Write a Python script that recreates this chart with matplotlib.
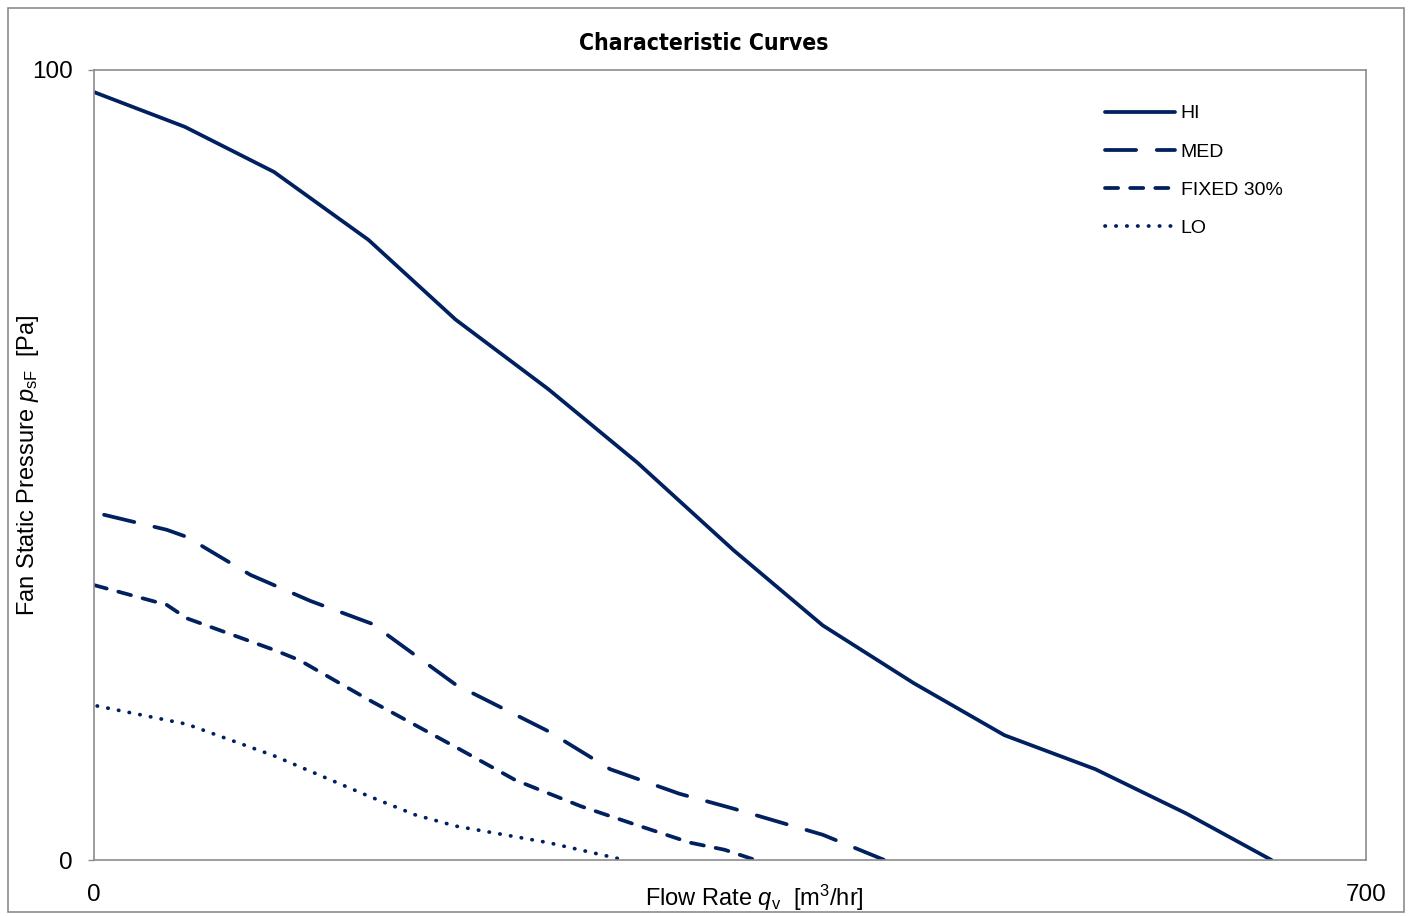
import matplotlib
matplotlib.use('Agg')
import matplotlib.pyplot as plt
from matplotlib.patches import Rectangle

plt.rcParams['font.family'] = ['Liberation Sans', 'DejaVu Sans']
plt.rcParams['mathtext.fontset'] = 'custom'
plt.rcParams['mathtext.rm'] = 'Liberation Sans'
plt.rcParams['mathtext.it'] = 'Liberation Sans:italic'

# fan curves (flow m3/hr, pressure Pa)
hi_q = [0, 50, 99, 151, 199, 250, 299, 352, 401, 451, 501, 551, 601, 648]
hi_p = [97.2, 92.8, 87.1, 78.5, 68.4, 59.6, 50.3, 39.2, 29.7, 22.4, 15.8, 11.5, 5.9, 0]

med_q = [5.5, 40, 51, 86, 119, 153, 199, 250, 284, 322, 352, 401, 435]
med_p = [43.7, 41.8, 40.9, 36.1, 32.8, 29.9, 22.2, 16.3, 11.5, 8.4, 6.5, 3.2, 0]

fix_q = [0, 40, 51, 99, 113, 151, 199, 232, 268, 299, 328, 347, 364]
fix_p = [34.8, 32.3, 30.6, 26.6, 25.3, 20.3, 14.3, 10.1, 6.8, 4.4, 2.2, 1.3, 0]

lo_q = [1.7, 51, 99, 151, 177, 199, 250, 292]
lo_p = [19.5, 17.2, 13.2, 8.1, 5.7, 4.3, 2.2, 0]

navy = '#002060'
grey = '#8c8c8c'

fig = plt.figure(figsize=(14.08, 9.16), dpi=100)
ax = fig.add_axes([0.0668, 0.0611, 0.9034, 0.8625])

lw = 2.7
ax.plot(hi_q, hi_p, color=navy, lw=lw, label='HI', solid_capstyle='round')
ax.plot(med_q, med_p, color=navy, lw=lw, label='MED', dashes=(8.3, 5.5), dash_capstyle='round')
ax.plot(fix_q, fix_p, color=navy, lw=lw, label='FIXED 30%', dashes=(3.5, 3.2), dash_capstyle='round')
ax.plot(lo_q, lo_p, color=navy, lw=lw, label='LO', dashes=(0.1, 2.8), dash_capstyle='round')

ax.set_xlim(0, 700)
ax.set_ylim(0, 100)
ax.set_xticks([0, 700])
ax.set_yticks([0, 100])
ax.tick_params(axis='both', length=4.5, width=1, color=grey, labelsize=17.5)
ax.tick_params(axis='y', pad=11)
ax.tick_params(axis='x', length=0, pad=17)
for s in ax.spines.values():
    s.set_color(grey)
    s.set_linewidth(1.2)

fig.text(0.5, 1 - 44 / 916, 'Characteristic Curves', fontsize=16.5, fontweight='bold',
         family='DejaVu Sans', fontstretch='condensed', ha='center', va='center')
fig.text(754 / 1408, 1 - 898 / 916, r'Flow Rate $\it{q}_{\rm v}$  [m$^3$/hr]',
         fontsize=17, ha='center', va='center')
fig.text(28 / 1408, 1 - 465 / 916, r'Fan Static Pressure $\it{p}_{\rm sF}$  [Pa]',
         fontsize=17, rotation=90, ha='center', va='center')

ax.legend(loc='upper left', bbox_to_anchor=(0.781, 0.978), frameon=False,
          fontsize=14, handlelength=3.6, labelspacing=1.05, handletextpad=0.3)

fig.patches.append(Rectangle((8 / 1408, 4 / 916), 1396 / 1408, 904 / 916,
                             transform=fig.transFigure, fill=False,
                             edgecolor=grey, lw=1.2))

fig.savefig('out.png', dpi=100)
